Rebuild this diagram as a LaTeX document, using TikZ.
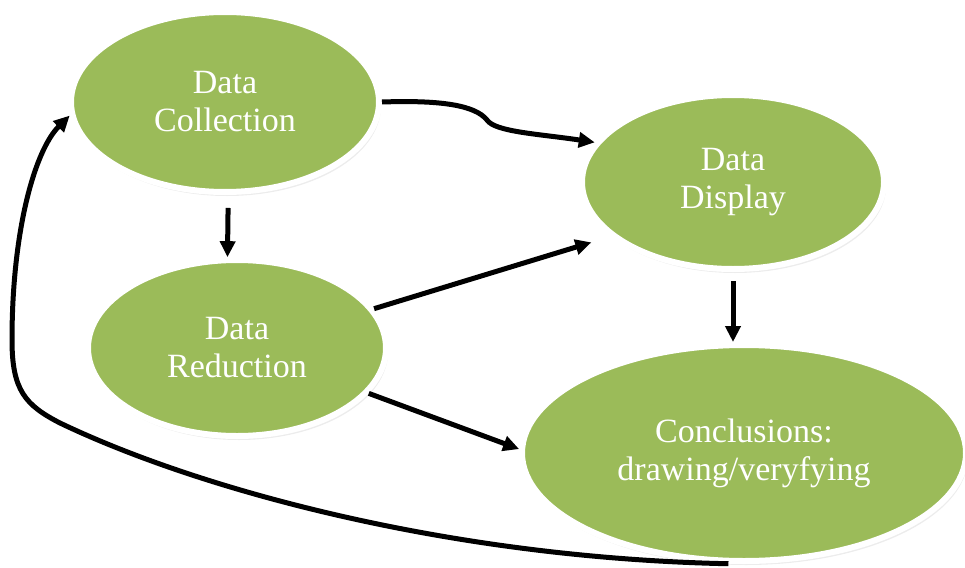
\documentclass[tikz,border=0pt]{standalone}
\usepackage{fontspec}
\setmainfont{Liberation Serif}
\usetikzlibrary{shapes.geometric,arrows.meta,shadows,calc}
\definecolor{ovalgreen}{HTML}{9BBB59}
\begin{document}
\begin{tikzpicture}[x=1pt,y=-1pt,
  oval/.style={ellipse, fill=ovalgreen, draw=white, line width=6pt, inner sep=0pt,
    align=center, text=white, font=\fontsize{34}{38}\selectfont,
    drop shadow={shadow xshift=2pt, shadow yshift=-4pt, opacity=.15}},
  link/.style={line width=5pt, -{Triangle[length=16pt,width=15pt]}}]
\useasboundingbox (0,0) rectangle (965,567);
\node[oval, minimum width=308pt, minimum height=180pt] (dc) at (225,102) {Data\\Collection};
\node[oval, minimum width=302pt, minimum height=174pt] (dd) at (733,182) {Data\\Display};
\node[oval, minimum width=298pt, minimum height=176pt] (dr) at (237,348) {Data\\Reduction};
\node[oval, minimum width=444pt, minimum height=216pt] (conc) at (744,453) {Conclusions:\\drawing/veryfying};
\coordinate (kink) at (487,120);
\draw[link] (dc.east) .. controls (440,100) and (475,105) .. (kink)
  .. controls (495,132) and (540,134) .. (dd.164);
\draw[link, shorten <=13pt] (dc.-88) -- (dr.96);
\draw[link, shorten >=20pt] (dr.16) -- (dd.204);
\draw[link] (dr.-19) -- (conc.179);
\draw[link, shorten <=9pt] (dd.south) -- (dd.south |- conc.north);
\draw[link] (conc.-98) .. controls (450,558) and (200,490) .. (60,423)
  .. controls (25,405) and (12,390) .. (12,340)
  .. controls (12,230) and (35,150) .. (dc.185);
\end{tikzpicture}
\end{document}
